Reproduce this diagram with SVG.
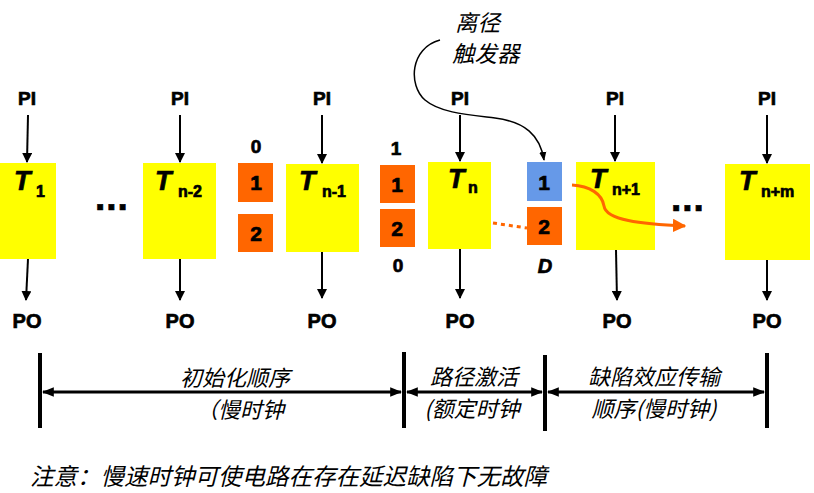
<svg xmlns="http://www.w3.org/2000/svg" width="814" height="493" viewBox="0 0 814 493">
<defs>
<marker id="ah" viewBox="0 0 10 10" refX="9" refY="5" markerWidth="5" markerHeight="5" orient="auto" markerUnits="strokeWidth"><path d="M0,0 L10,5 L0,10 z" fill="#000"/></marker>
<marker id="ahs" viewBox="0 0 10 10" refX="9" refY="5" markerWidth="9" markerHeight="9" orient="auto" markerUnits="userSpaceOnUse"><path d="M0,1 L10,5 L0,9 z" fill="#000"/></marker>
<marker id="aho" viewBox="0 0 10 10" refX="9" refY="5" markerWidth="4.5" markerHeight="4.5" orient="auto" markerUnits="strokeWidth"><path d="M0,0 L10,5 L0,10 z" fill="#FF6600"/></marker>
<marker id="ahb" viewBox="0 0 10 10" refX="9" refY="5" markerWidth="12" markerHeight="12" orient="auto-start-reverse" markerUnits="userSpaceOnUse"><path d="M0,1 L10,5 L0,9 z" fill="#000"/></marker>
</defs>
<style>
.box{fill:#FFFF00}
.or{fill:#FF6600}
.bl{fill:#6699E8}
.lbl{font-family:"Liberation Sans",Arial,sans-serif;font-weight:bold;fill:#000;stroke:#000;stroke-width:0.7}
.pi{font-size:19px;text-anchor:middle}
.po{font-size:20px;text-anchor:middle}
.T{font-size:27px;font-style:italic}
.sub{font-size:16px}
.num{font-size:21px;text-anchor:middle}
.cn{font-family:"Noto Sans CJK SC","Noto Sans CJK JP",sans-serif;font-style:italic;fill:#000}
.ph{font-size:22px;text-anchor:middle}
.ar{stroke:#000;stroke-width:2;fill:none;marker-end:url(#ah)}
.dim{stroke:#000;stroke-width:3;fill:none}
.bar{stroke:#000;stroke-width:4}
</style>
<rect width="814" height="493" fill="#fff"/>

<g id="T1">
<rect class="box" x="0" y="163" width="56" height="96"/>
<text class="lbl T" x="14" y="190">T</text><text class="lbl sub" x="36" y="197">1</text>
</g>
<g id="Tn-2">
<rect class="box" x="143" y="163" width="73" height="96"/>
<text class="lbl T" x="155" y="190">T</text><text class="lbl sub" x="178" y="197">n-2</text>
</g>
<g id="Tn-1">
<rect class="box" x="286" y="164" width="73" height="88"/>
<text class="lbl T" x="299" y="190">T</text><text class="lbl sub" x="322" y="197">n-1</text>
</g>
<g id="Tn">
<rect class="box" x="428" y="162" width="63" height="87"/>
<text class="lbl T" x="448" y="188">T</text><text class="lbl sub" x="468" y="193">n</text>
</g>
<g id="Tn+1">
<rect class="box" x="576" y="162" width="79" height="88"/>
<text class="lbl T" x="590" y="188">T</text><text class="lbl sub" x="612" y="195">n+1</text>
</g>
<g id="Tn+m">
<rect class="box" x="725" y="164" width="85" height="96"/>
<text class="lbl T" x="739" y="190">T</text><text class="lbl sub" x="761" y="197">n+m</text>
</g>

<g id="FF-a">
<text class="lbl num" x="256" y="153" style="font-size:19px">0</text>
<rect class="or" x="238" y="163" width="35" height="39"/>
<text class="lbl num" x="256" y="190">1</text>
<rect class="or" x="238" y="214" width="35" height="38"/>
<text class="lbl num" x="256" y="241">2</text>
</g>
<g id="FF-b">
<text class="lbl num" x="396" y="155" style="font-size:19px">1</text>
<rect class="or" x="380" y="165" width="35" height="38"/>
<text class="lbl num" x="397" y="192">1</text>
<rect class="or" x="380" y="209" width="35" height="38"/>
<text class="lbl num" x="397" y="236">2</text>
<text class="lbl num" x="398" y="272" style="font-size:19px">0</text>
</g>
<g id="FF-D">
<rect class="bl" x="527" y="162" width="35" height="39"/>
<text class="lbl num" x="544" y="190">1</text>
<rect class="or" x="527" y="207" width="35" height="38"/>
<text class="lbl num" x="544" y="234">2</text>
<text class="lbl" x="545" y="273" style="font-size:20px;font-style:italic;text-anchor:middle">D</text>
</g>

<g id="dots">
<text class="lbl" x="95" y="210" style="font-size:37px;letter-spacing:1px">...</text>
<text class="lbl" x="671" y="211" style="font-size:37px;letter-spacing:1px">...</text>
</g>

<g id="trigger-label">
<text class="cn" x="455" y="31" style="font-size:22.5px">离径</text>
<text class="cn" x="452" y="62" style="font-size:22.5px">触发器</text>
</g>

<g id="io-labels">
<text class="lbl pi" x="27" y="105">PI</text>
<text class="lbl pi" x="180" y="105">PI</text>
<text class="lbl pi" x="322" y="105">PI</text>
<text class="lbl pi" x="460" y="105">PI</text>
<text class="lbl pi" x="615" y="105">PI</text>
<text class="lbl pi" x="767" y="105">PI</text>
<text class="lbl po" x="27" y="328">PO</text>
<text class="lbl po" x="180" y="328">PO</text>
<text class="lbl po" x="322" y="328">PO</text>
<text class="lbl po" x="460" y="328">PO</text>
<text class="lbl po" x="617" y="328">PO</text>
<text class="lbl po" x="767" y="328">PO</text>
</g>

<g id="connectors">
<line class="ar" x1="28" y1="115" x2="27" y2="162"/>
<line class="ar" x1="180" y1="115" x2="180" y2="162"/>
<line class="ar" x1="322" y1="115" x2="322" y2="163"/>
<line class="ar" x1="460" y1="115" x2="460" y2="161"/>
<line class="ar" x1="615" y1="115" x2="615" y2="161"/>
<line class="ar" x1="767" y1="115" x2="767" y2="163"/>
<line class="ar" x1="28" y1="259" x2="26" y2="300"/>
<line class="ar" x1="180" y1="259" x2="180" y2="300"/>
<line class="ar" x1="322" y1="252" x2="322" y2="298"/>
<line class="ar" x1="460" y1="249" x2="460" y2="298"/>
<line class="ar" x1="616" y1="250" x2="617" y2="300"/>
<line class="ar" x1="767" y1="260" x2="767" y2="300"/>
<path d="M440,40 C410,48 408,85 425,100 C440,113 470,115 495,118 C525,122 540,135 544,160" style="stroke:#000;stroke-width:1.5;fill:none;marker-end:url(#ahs)"/>
<line x1="493" y1="223" x2="527" y2="228" style="stroke:#FF6600;stroke-width:3;stroke-dasharray:4,4"/>
<path d="M572,185 C590,186 602,194 604,206 C606,220 640,224 685,226" style="stroke:#FF6600;stroke-width:3;fill:none;marker-end:url(#aho)"/>
<line class="bar" x1="40" y1="353" x2="40" y2="428"/>
<line class="bar" x1="404" y1="352" x2="404" y2="428"/>
<line class="bar" x1="545" y1="355" x2="545" y2="431"/>
<line class="bar" x1="767" y1="353" x2="767" y2="428"/>
<line class="dim" x1="43" y1="392" x2="401" y2="392" style="marker-start:url(#ahb);marker-end:url(#ahb)"/>
<line class="dim" x1="407" y1="392" x2="542" y2="392" style="marker-start:url(#ahb);marker-end:url(#ahb)"/>
<line class="dim" x1="548" y1="392" x2="764" y2="392" style="marker-start:url(#ahb);marker-end:url(#ahb)"/>
</g>

<g id="phase-labels">
<text class="cn ph" x="235" y="386">初始化顺序</text>
<text class="cn ph" x="240" y="418">（慢时钟</text>
<text class="cn ph" x="474" y="385">路径激活</text>
<text class="cn ph" x="472" y="417">(额定时钟</text>
<text class="cn ph" x="654" y="385">缺陷效应传输</text>
<text class="cn ph" x="654" y="417">顺序(慢时钟)</text>
</g>

<text class="cn" x="30" y="485" style="font-size:23.5px">注意：慢速时钟可使电路在存在延迟缺陷下无故障</text>
</svg>
